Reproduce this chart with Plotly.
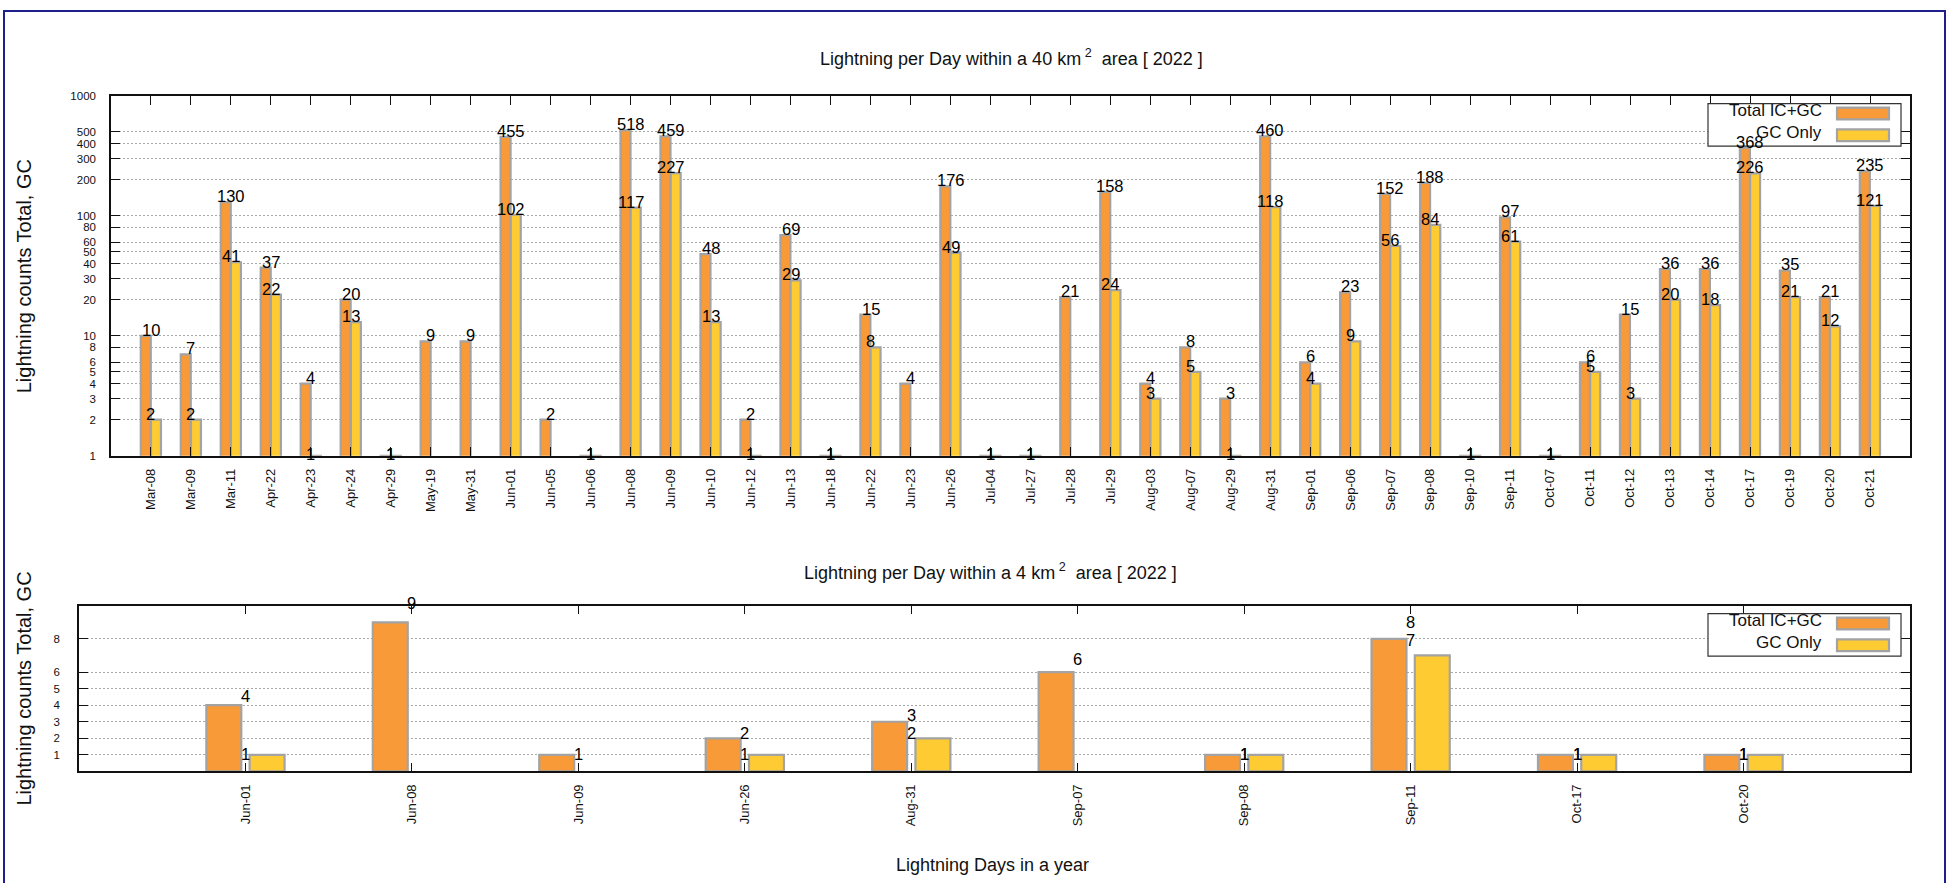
import numpy as np
import plotly.graph_objects as go

# ---------------- data ----------------
days_40 = ["Mar-08", "Mar-09", "Mar-11", "Apr-22", "Apr-23", "Apr-24", "Apr-29", "May-19", "May-31",
           "Jun-01", "Jun-05", "Jun-06", "Jun-08", "Jun-09", "Jun-10", "Jun-12", "Jun-13", "Jun-18",
           "Jun-22", "Jun-23", "Jun-26", "Jul-04", "Jul-27", "Jul-28", "Jul-29", "Aug-03", "Aug-07",
           "Aug-29", "Aug-31", "Sep-01", "Sep-06", "Sep-07", "Sep-08", "Sep-10", "Sep-11", "Oct-07",
           "Oct-11", "Oct-12", "Oct-13", "Oct-14", "Oct-17", "Oct-19", "Oct-20", "Oct-21"]
total_40 = [10, 7, 130, 37, 4, 20, 1, 9, 9,
            455, 2, 1, 518, 459, 48, 2, 69, 1,
            15, 4, 176, 1, 1, 21, 158, 4, 8,
            3, 460, 6, 23, 152, 188, 1, 97, 1,
            6, 15, 36, 36, 368, 35, 21, 235]
gc_40 = [2, 2, 41, 22, 1, 13, 1, 0, 0,
         102, 0, 1, 117, 227, 13, 1, 29, 1,
         8, 0, 49, 1, 1, 0, 24, 3, 5,
         1, 118, 4, 9, 56, 84, 1, 61, 1,
         5, 3, 20, 18, 226, 21, 12, 121]

days_4 = ["Jun-01", "Jun-08", "Jun-09", "Jun-26", "Aug-31", "Sep-07", "Sep-08", "Sep-11", "Oct-17", "Oct-20"]
total_4 = [4, 9, 1, 2, 3, 6, 1, 8, 1, 1]
gc_4 = [1, 0, 0, 1, 2, 0, 1, 7, 1, 1]

ticks_40 = [1, 2, 3, 4, 5, 6, 8, 10, 20, 30, 40, 50, 60, 80, 100, 200, 300, 400, 500, 1000]
ticks_4 = [1, 2, 3, 4, 5, 6, 8]

series_names = ["Total IC+GC", "GC Only"]

# ---------------- style ----------------
W, H = 1948, 883
ORANGE = "#F89A38"
YELLOW = "#FFCB33"
EDGE = "#A3A3A3"
GRID = "#A8A8A8"
FONT = "Liberation Sans, Arial, Helvetica, sans-serif"


def px(x):
    return x / W


def py(y):
    return 1 - y / H


def nz(values):
    # zero counts are not drawn
    return [v if v > 0 else None for v in values]


fig = go.Figure()

# top chart bars
fig.add_trace(go.Bar(x=days_40, y=nz(total_40), name=series_names[0], xaxis="x", yaxis="y",
                     width=0.25, offset=-0.255,
                     marker=dict(color=ORANGE, line=dict(color=EDGE, width=2.2)), showlegend=False))
fig.add_trace(go.Bar(x=days_40, y=nz(gc_40), name=series_names[1], xaxis="x", yaxis="y",
                     width=0.25, offset=0.0,
                     marker=dict(color=YELLOW, line=dict(color=EDGE, width=2.2)), showlegend=False))

# bottom chart bars
fig.add_trace(go.Bar(x=days_4, y=nz(total_4), name=series_names[0], xaxis="x2", yaxis="y2",
                     width=0.21, offset=-0.235,
                     marker=dict(color=ORANGE, line=dict(color=EDGE, width=2.2)), showlegend=False))
fig.add_trace(go.Bar(x=days_4, y=nz(gc_4), name=series_names[1], xaxis="x2", yaxis="y2",
                     width=0.21, offset=0.025,
                     marker=dict(color=YELLOW, line=dict(color=EDGE, width=2.2)), showlegend=False))

annotations = []
LABEL_FONT = dict(family=FONT, size=16.5, color="#000000")

# value labels, top chart (log axis -> log10 for annotation coordinates)
for series in (total_40, gc_40):
    for d, v in zip(days_40, series):
        if v > 0:
            annotations.append(dict(x=d, y=float(np.log10(v)), xref="x", yref="y", text=str(v),
                                    xanchor="center", yanchor="middle",
                                    showarrow=False, yshift=6 if v > 1 else 2, font=LABEL_FONT))

# value labels, bottom chart
for series in (total_4, gc_4):
    for d, v in zip(days_4, series):
        if v > 0:
            annotations.append(dict(x=d, y=v, xref="x2", yref="y2", text=str(v),
                                    xanchor="center", yanchor="middle",
                                    showarrow=False, yshift=2 * v + 1 if v > 1 else 1, font=LABEL_FONT))

TITLE_FONT = dict(family=FONT, size=18, color="#111111")
YTITLE_FONT = dict(family=FONT, size=20, color="#111111")
# titles
annotations += [
    dict(x=px(1011), y=py(52), xref="paper", yref="paper", showarrow=False,
         xanchor="center", yanchor="middle",
         text="Lightning per Day within a 40 km<sup> 2</sup>  area [ 2022 ]", font=TITLE_FONT),
    dict(x=px(990), y=py(573), xref="paper", yref="paper", showarrow=False,
         xanchor="center", yanchor="middle",
         text="Lightning per Day within a 4 km<sup> 2</sup>  area [ 2022 ]", font=TITLE_FONT),
    dict(x=px(992), y=py(871), xref="paper", yref="paper", showarrow=False,
         xanchor="center", yanchor="middle",
         text="Lightning Days in a year", font=TITLE_FONT),
    dict(x=px(24), y=py(274), xref="paper", yref="paper", showarrow=False, textangle=-90,
         xanchor="center", yanchor="middle",
         text="Lightning counts Total, GC", font=YTITLE_FONT),
    dict(x=px(24), y=py(692), xref="paper", yref="paper", showarrow=False, textangle=-90,
         xanchor="center", yanchor="middle",
         text="Lightning counts Total, GC", font=YTITLE_FONT),
]

shapes = [
    # outer frame
    dict(type="rect", xref="paper", yref="paper", x0=px(4), x1=px(1945), y0=py(890), y1=py(5),
         line=dict(color="#1E1E8C", width=2), fillcolor="rgba(0,0,0,0)", layer="above"),
]

# custom legends (text left, swatch right)
for top in (99, 616):
    shapes.append(dict(type="rect", xref="paper", yref="paper", x0=px(1708), x1=px(1901),
                       y0=py(top + 43), y1=py(top), line=dict(color="#333333", width=1.2),
                       fillcolor="white", layer="above"))
    for i, (name, col) in enumerate(zip(series_names, (ORANGE, YELLOW))):
        yc = top + 10 + 22 * i
        shapes.append(dict(type="rect", xref="paper", yref="paper", x0=px(1837), x1=px(1889),
                           y0=py(yc + 6), y1=py(yc - 6), line=dict(color=EDGE, width=2.2),
                           fillcolor=col, layer="above"))
        annotations.append(dict(x=px(1824), y=py(yc - 3), xref="paper", yref="paper",
                                xanchor="right", yanchor="middle",
                                showarrow=False, text=name,
                                font=dict(family=FONT, size=17, color="#111111")))

axis_common = dict(showline=True, linecolor="#111111", linewidth=1.5, mirror="allticks",
                   ticks="inside", ticklen=9, tickcolor="#111111", tickwidth=1.2, zeroline=False)

fig.update_layout(
    width=W, height=H,
    margin=dict(l=0, r=0, t=0, b=0),
    paper_bgcolor="white", plot_bgcolor="white",
    showlegend=False,
    xaxis=dict(domain=[px(111), px(1910)], anchor="y", type="category", range=[-1, 44],
               categoryorder="array", categoryarray=days_40,
               tickangle=-90, tickfont=dict(family=FONT, size=13, color="#111111"),
               showgrid=False, ticklabelstandoff=6, **axis_common),
    yaxis=dict(domain=[py(456), py(91)], anchor="x", type="log", range=[0, 3],
               tickvals=ticks_40, ticktext=[str(t) for t in ticks_40],
               tickfont=dict(family=FONT, size=11.5, color="#111111"),
               showgrid=True, gridcolor=GRID, gridwidth=1, griddash="2px,2px",
               ticklabelstandoff=11, **axis_common),
    xaxis2=dict(domain=[px(79), px(1910)], anchor="y2", type="category", range=[-1, 10],
                categoryorder="array", categoryarray=days_4,
                tickangle=-90, tickfont=dict(family=FONT, size=13, color="#111111"),
                showgrid=False, ticklabelstandoff=6, **axis_common),
    yaxis2=dict(domain=[py(776), py(608)], anchor="x2", range=[0, 10],
                tickvals=ticks_4, ticktext=[str(t) for t in ticks_4],
                tickfont=dict(family=FONT, size=11.5, color="#111111"),
                showgrid=True, gridcolor=GRID, gridwidth=1, griddash="2px,2px",
                ticklabelstandoff=15, **axis_common),
    annotations=annotations,
    shapes=shapes,
)

fig.write_html("out.html")
